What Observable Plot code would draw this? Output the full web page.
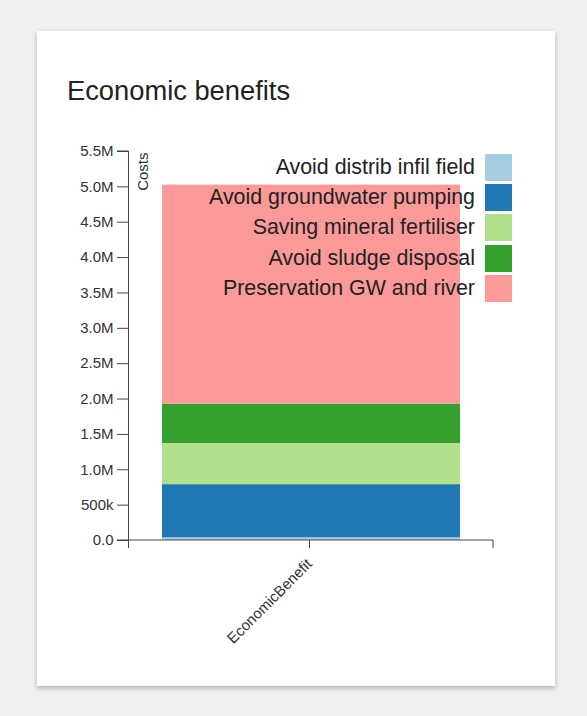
<!DOCTYPE html>
<html>
<head>
<meta charset="utf-8">
<script src="https://cdn.jsdelivr.net/npm/d3@7"></script>
<script src="https://cdn.jsdelivr.net/npm/@observablehq/plot@0.6"></script>
<style>
  html, body { margin: 0; padding: 0; }
  body {
    width: 587px; height: 716px; background: #f0f0f0; position: relative; overflow: hidden;
    font-family: "Liberation Sans", Arial, sans-serif; color: #333;
  }
  #card {
    position: absolute; left: 37px; top: 31px; width: 518px; height: 655px;
    background: #fff; box-shadow: 0 2px 5px rgba(0,0,0,0.28);
  }
  #title {
    position: absolute; left: 30px; top: 46px; font-size: 27.3px; line-height: 27px;
    color: #222; white-space: nowrap;
  }
  #chart { position: absolute; left: 0; top: 89px; }
  #legend {
    position: absolute; right: 43px; top: 121px;
    display: flex; flex-direction: column; align-items: flex-end;
  }
  .row { display: flex; align-items: center; height: 30.4px; }
  .row span { font-size: 21.4px; color: #222; margin-right: 10px; white-space: nowrap; }
  .row i { display: block; width: 27px; height: 27px; }
</style>
</head>
<body>
<div id="card">
  <div id="title">Economic benefits</div>
  <div id="chart"></div>
  <div id="legend"></div>
</div>
<script>
// Stacked benefit components, bottom to top
const groups = ["EconomicBenefit"];
const categories = [
  "Avoid distrib infil field",
  "Avoid groundwater pumping",
  "Saving mineral fertiliser",
  "Avoid sludge disposal",
  "Preservation GW and river"
];
const values = [38000, 752000, 580000, 558000, 3097000];
const colors = ["#a6cee3", "#1f78b4", "#b2df8a", "#33a02c", "#fb9a99"];
const yTicks = [0, 500000, 1000000, 1500000, 2000000, 2500000, 3000000,
                3500000, 4000000, 4500000, 5000000, 5500000];
const yLabel = "Costs";

const rows = categories.map((c, i) => ({group: groups[0], category: c, value: values[i]}));
const fmt = d3.format(".2s");

// Axis domain paths with outer ticks, drawn from the plot's own scales
function domainLines(index, scales, values, dim) {
  const g = d3.create("svg:g").attr("fill", "none").attr("stroke", "#444");
  const x0 = dim.marginLeft, x1 = dim.width - dim.marginRight;
  const yTop = scales.y(yTicks[yTicks.length - 1]), yBot = scales.y(0);
  g.append("path").attr("d", `M${x0 - 11},${yTop}H${x0 + 0.5}V${yBot}H${x0 - 11}`);
  g.append("path").attr("d", `M${x0 + 0.5},${yBot + 8}V${yBot}H${x1}V${yBot + 8}`);
  return g.node();
}

const chart = Plot.plot({
  width: 518,
  height: 540,
  marginLeft: 91,
  marginRight: 62,
  marginTop: 31,
  marginBottom: 120,
  style: {fontFamily: "Liberation Sans, Arial, sans-serif", color: "#333", background: "transparent"},
  x: {domain: groups, padding: 0.1, label: null},
  y: {domain: [0, 5500000], label: null},
  color: {domain: categories, range: colors},
  marks: [
    Plot.barY(rows, {x: "group", y: "value", fill: "category", order: categories}),
    Plot.axisY({ticks: yTicks, tickFormat: fmt, tickSize: 11, tickPadding: 4, fontSize: 15, label: null, stroke: "#444"}),
    Plot.axisX({tickSize: 8, tickPadding: 13, dx: -2, tickRotate: -45, fontSize: 15, label: null, stroke: "#444"}),
    Plot.text([yLabel], {frameAnchor: "top-left", rotate: -90, textAnchor: "end", dx: 9, dy: 1, fontSize: 15, fill: "#333"}),
    domainLines
  ]
});
document.getElementById("chart").appendChild(chart);

// Legend, listed in stacking order
const legend = d3.select("#legend");
categories.forEach((c, i) => {
  const row = legend.append("div").attr("class", "row");
  row.append("span").text(c);
  row.append("i").style("background", colors[i]);
});
</script>
</body>
</html>
